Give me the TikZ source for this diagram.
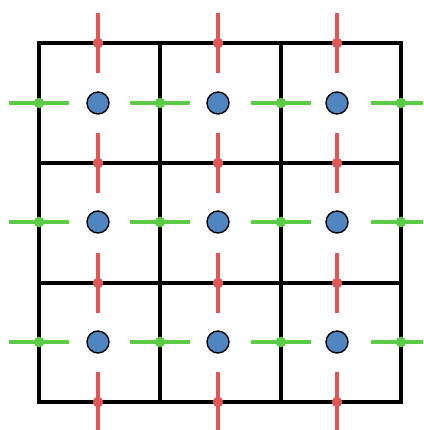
\documentclass[tikz,border=0pt]{standalone}
\begin{document}
\begin{tikzpicture}[x=1pt,y=-1pt,
  gridline/.style={line width=4pt,black,line cap=rect},
  redseg/.style={line width=4pt,draw=redc},
  greenseg/.style={line width=4pt,draw=greenc},
  reddot/.style={circle,fill=redc,inner sep=0pt,minimum size=10.5pt},
  greendot/.style={circle,fill=greenc,inner sep=0pt,minimum size=10.5pt},
  bluedot/.style={circle,fill=bluec,draw=black,line width=1.4pt,inner sep=0pt,minimum size=22pt}]
\definecolor{redc}{HTML}{E05656}
\definecolor{greenc}{HTML}{5BCC45}
\definecolor{bluec}{HTML}{4F86C1}
\useasboundingbox (0,0) rectangle (423,430);
\clip (0,0) rectangle (423,430);
% grid
\foreach \x in {39,160,281,401} \draw[gridline] (\x,43) -- (\x,402);
\foreach \y in {43,163,283,402} \draw[gridline] (39,\y) -- (401,\y);
% red vertical segments across horizontal lines
\foreach \x/\i in {98/1,218/2,337/3}
  \foreach \y/\j in {43/1,163/2,283/3,402/4} {
    \coordinate (rt\i\j) at (\x,\y-30);
    \coordinate (rb\i\j) at (\x,\y+30);
    \draw[redseg] (rt\i\j) -- (rb\i\j);
    \node[reddot] (r\i\j) at (\x,\y) {};
  }
% green horizontal segments across vertical lines
\foreach \x/\i in {39/1,160/2,281/3,401/4}
  \foreach \y/\j in {103/1,222/2,342/3} {
    \coordinate (gl\i\j) at (\x-30,\y);
    \coordinate (gr\i\j) at (\x+30,\y);
    \draw[greenseg] (gl\i\j) -- (gr\i\j);
    \node[greendot] (g\i\j) at (\x,\y) {};
  }
% blue cell centres
\foreach \x/\i in {98/1,218/2,337/3}
  \foreach \y/\j in {103/1,222/2,342/3}
    \node[bluedot] (b\i\j) at (\x,\y) {};
\end{tikzpicture}
\end{document}
